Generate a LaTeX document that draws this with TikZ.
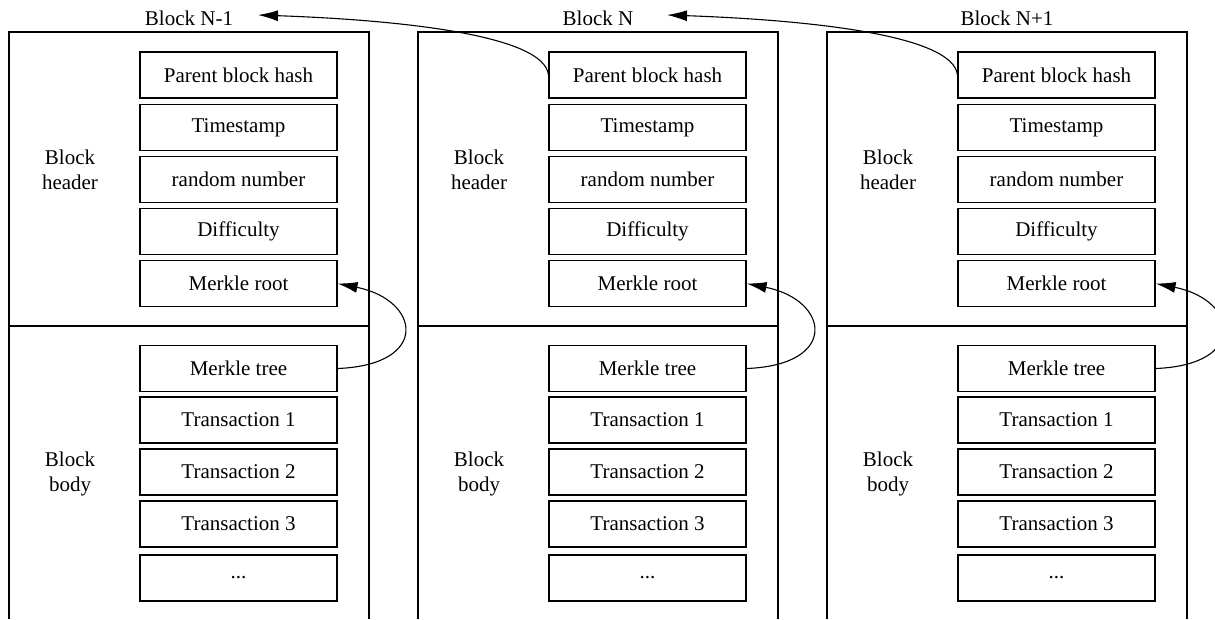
\documentclass[tikz,border=0pt]{standalone}
\usepackage{fontspec}
\setmainfont{Liberation Serif}
\usetikzlibrary{arrows.meta}
\begin{document}
\begin{tikzpicture}[x=1pt,y=-1pt,
  cell/.style={draw, line width=1.1pt, minimum width=197pt, minimum height=46pt, inner sep=0pt, font=\fontsize{21}{25}\selectfont},
  lbl/.style={font=\fontsize{21}{25}\selectfont, align=center, inner sep=0pt},
  frame/.style={line width=1.1pt},
  link/.style={line width=1.1pt, -{Latex[length=20pt,width=11pt]}}]
\useasboundingbox (0,0) rectangle (1215,619);
\foreach \b/\name [count=\i] in {0/{Block N-1}, 409/{Block N}, 818/{Block N+1}} {
  \begin{scope}[xshift=\b pt]
    \draw[frame] (9,619) -- (9,32) -- (369,32) -- (369,619);
    \draw[frame] (9,326) -- (369,326);
    \node[lbl] (t\i) at (189,18) {\name};
    \node[lbl] (hl\i) at (70,170) {Block\\header};
    \node[lbl] (bl\i) at (70,474) {Block\\body};
    \node[cell] (p\i)  at (238.5,75)    {Parent block hash};
    \node[cell] (ts\i) at (238.5,127.5) {Timestamp};
    \node[cell] (rn\i) at (238.5,179.5) {random number};
    \node[cell] (d\i)  at (238.5,231.5) {Difficulty};
    \node[cell] (mr\i) at (238.5,283.5) {Merkle root};
    \node[cell] (mt\i) at (238.5,368.5) {Merkle tree};
    \node[cell] (ta\i) at (238.5,420)   {Transaction 1};
    \node[cell] (tb\i) at (238.5,472)   {Transaction 2};
    \node[cell] (tc\i) at (238.5,524)   {Transaction 3};
    \node[cell] (td\i) at (238.5,578)   {...};
    \draw[link] (mt\i.east) .. controls +(93,-3.5) and +(83,16.5) .. (mr\i.east);
  \end{scope}
}
\coordinate (a1) at (258,15);
\coordinate (a2) at (667,15);
\draw[link] (p2.west) .. controls +(-4,-40) and +(142,5) .. (a1);
\draw[link] (p3.west) .. controls +(-4,-40) and +(142,5) .. (a2);
\end{tikzpicture}
\end{document}
